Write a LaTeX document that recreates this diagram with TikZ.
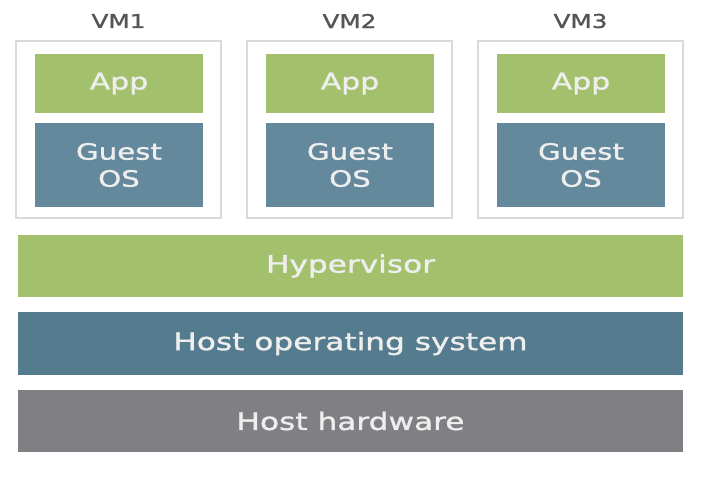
\documentclass[tikz,border=0pt]{standalone}
\usepackage{fontspec}
\setmainfont[FakeStretch=1.3,FakeBold=1.3]{DejaVu Sans}
\definecolor{appgreen}{HTML}{A3C16D}
\definecolor{guestblue}{HTML}{64899C}
\definecolor{hostblue}{HTML}{557B8F}
\definecolor{hwgray}{HTML}{808084}
\definecolor{vmborder}{HTML}{DADADA}
\definecolor{labelgray}{HTML}{555555}
\definecolor{lighttext}{HTML}{EEEEEE}
\begin{document}
\begin{tikzpicture}[x=1pt,y=-1pt,
  vmbox/.style={draw=vmborder,line width=1.2pt,fill=white,minimum width=205pt,minimum height=177pt,inner sep=0pt},
  appbox/.style={fill=appgreen,minimum width=168pt,minimum height=59pt,inner sep=0pt,text=lighttext,font=\fontsize{23}{27}\selectfont},
  guestbox/.style={fill=guestblue,minimum width=168pt,minimum height=84pt,inner sep=0pt,text=lighttext,align=center,font=\fontsize{22.5}{27}\selectfont},
  barbox/.style={minimum width=665pt,minimum height=62pt,inner sep=0pt,text=lighttext,font=\fontsize{24}{28}\selectfont},
  vmlabel/.style={text=labelgray,font=\fontsize{19}{22}\selectfont,inner sep=0pt}]
\useasboundingbox[fill=white] (0,0) rectangle (708,482);
\foreach \i/\cx/\ax in {1/118.5/119,2/349.5/350,3/580.5/581}{
  \node[vmlabel] (vmlab\i) at (\cx,21) {VM\i};
  \node[vmbox] (vm\i) at (\cx,129.5) {};
  \node[appbox] (app\i) at (\ax,83.5) {App};
  \node[guestbox] (guest\i) at (\ax,165) {Guest\\OS};
}
\node[barbox,fill=appgreen] (hyp) at (350.5,266) {Hypervisor};
\node[barbox,fill=hostblue,minimum height=63pt] (hostos) at (350.5,343.5) {Host operating system};
\node[barbox,fill=hwgray] (hw) at (350.5,421) {Host hardware};
\end{tikzpicture}
\end{document}
